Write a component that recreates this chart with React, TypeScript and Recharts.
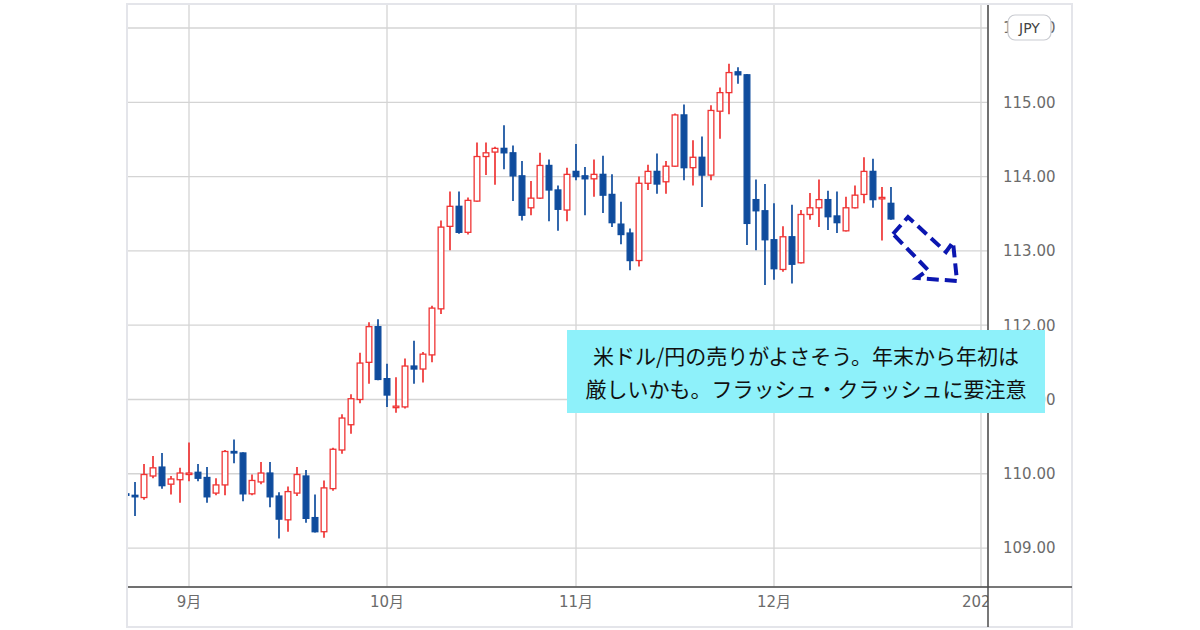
import { ComposedChart, Bar, XAxis, YAxis, CartesianGrid } from 'recharts'

const UP = '#ef3434'
const DOWN = '#0f4c9d'
const GRID = '#d4d4d4'
const AXIS = '#4b4b4b'
const LABEL = '#6b6b6b'

const W = 1200
const H = 630
const MARGIN = { top: 4, right: 128, bottom: 3, left: 127 }
const Y_W = 84
const X_H = 40
const PLOT_RIGHT = W - MARGIN.right - Y_W

// trading days shown on the axis (Aug 23, 2021 .. Jan 3, 2022)
const augDays = [23, 24, 25, 26, 27, 30, 31]
const sepDays = [1, 2, 3, 6, 7, 8, 9, 10, 13, 14, 15, 16, 17, 20, 21, 22, 23, 24, 27, 28, 29, 30]
const octDays = [1, 4, 5, 6, 7, 8, 11, 12, 13, 14, 15, 18, 19, 20, 21, 22, 25, 26, 27, 28, 29]
const novDays = [1, 2, 3, 4, 5, 8, 9, 10, 11, 12, 15, 16, 17, 18, 19, 22, 23, 24, 25, 26, 29, 30]
const decDays = [1, 2, 3, 6, 7, 8, 9, 10, 13, 14, 15, 16, 17, 20, 21, 22, 23, 24, 27, 28, 29, 30, 31]
const janDays = [3]

const pad = (d: number) => String(d).padStart(2, '0')
const calendar = [
  ...augDays.map((d) => `2021-08-${pad(d)}`),
  ...sepDays.map((d) => `2021-09-${pad(d)}`),
  ...octDays.map((d) => `2021-10-${pad(d)}`),
  ...novDays.map((d) => `2021-11-${pad(d)}`),
  ...decDays.map((d) => `2021-12-${pad(d)}`),
  ...janDays.map((d) => `2022-01-${pad(d)}`),
]

// USD/JPY daily OHLC, one row per month
const opens = [
  109.73, 109.71, 109.68, 109.97, 110.09, 109.86, 109.92,
  109.99, 110.02, 109.95, 109.74, 109.85, 110.3, 110.28, 109.73, 109.89, 110.01, 109.7, 109.38, 109.74, 109.97, 109.41, 109.22, 109.8, 110.32, 110.66, 111.0, 111.5, 111.98,
  111.28, 110.89, 110.9, 111.45, 111.41, 111.6, 112.22, 113.33, 113.6, 113.25, 113.67, 114.27, 114.33, 114.38, 114.32, 114.01, 113.58, 113.71, 114.15, 113.82, 113.55,
  114.07, 114.01, 113.97, 114.03, 113.76, 113.36, 113.24, 112.87, 113.91, 114.07, 113.93, 114.14, 114.83, 114.12, 114.26, 114.02, 114.88, 115.13, 115.41, 115.37, 113.69, 113.54,
  113.15, 112.75, 113.19, 112.84, 113.49, 113.58, 113.69, 113.47, 113.27, 113.58, 113.76, 114.07, 113.7, 113.64,
]
const highs = [
  109.76, 109.89, 110.13, 110.24, 110.28, 109.97, 110.08,
  110.42, 110.13, 110.09, 109.94, 110.32, 110.46, 110.29, 109.99, 110.16, 110.16, 109.75, 109.83, 110.09, 110.05, 109.72, 109.91, 110.35, 110.8, 111.07, 111.63, 112.04, 112.08,
  111.48, 111.3, 111.55, 111.79, 111.64, 112.26, 113.41, 113.8, 113.8, 113.72, 114.46, 114.46, 114.4, 114.69, 114.42, 114.21, 113.94, 114.32, 114.23, 113.88, 114.12,
  114.44, 114.13, 114.23, 114.28, 114.03, 113.66, 113.3, 114.0, 114.16, 114.31, 114.21, 114.85, 114.97, 114.49, 114.54, 114.96, 115.2, 115.52, 115.47, 115.38, 113.96, 113.9,
  113.64, 113.33, 113.62, 113.55, 113.78, 113.96, 113.81, 113.8, 113.73, 113.88, 114.26, 114.24, 113.86, 113.86,
]
const lows = [
  109.68, 109.43, 109.65, 109.94, 109.8, 109.72, 109.61,
  109.9, 109.9, 109.61, 109.71, 109.71, 110.14, 109.63, 109.71, 109.86, 109.55, 109.13, 109.22, 109.7, 109.34, 109.21, 109.14, 109.77, 110.27, 110.54, 110.95, 111.21, 111.26,
  110.9, 110.82, 110.88, 111.21, 111.23, 111.5, 112.15, 113.01, 113.23, 113.22, 113.66, 114.02, 113.89, 114.1, 113.67, 113.41, 113.48, 113.7, 113.4, 113.27, 113.4,
  113.95, 113.48, 113.73, 113.51, 113.32, 113.09, 112.74, 112.79, 113.82, 113.77, 113.77, 114.13, 113.95, 113.88, 113.59, 113.95, 114.51, 114.84, 115.25, 113.08, 113.01, 112.54,
  112.61, 112.72, 112.56, 112.83, 113.42, 113.32, 113.28, 113.24, 113.26, 113.57, 113.64, 113.58, 113.14, 113.42,
]
const closes = [
  109.71, 109.69, 109.99, 110.08, 109.84, 109.93, 110.01,
  110.01, 109.94, 109.69, 109.85, 110.3, 110.28, 109.73, 109.91, 110.01, 109.69, 109.39, 109.76, 109.99, 109.4, 109.22, 109.81, 110.33, 110.75, 111.01, 111.49, 111.98, 111.27,
  111.06, 110.91, 111.45, 111.41, 111.61, 112.23, 113.32, 113.6, 113.25, 113.68, 114.27, 114.32, 114.38, 114.32, 114.01, 113.48, 113.71, 114.15, 113.82, 113.56, 114.03,
  114.0, 113.97, 114.03, 113.75, 113.38, 113.22, 112.87, 113.91, 114.07, 113.9, 114.14, 114.83, 114.12, 114.26, 114.02, 114.89, 115.13, 115.4, 115.37, 113.37, 113.54, 113.15,
  112.76, 113.19, 112.82, 113.49, 113.58, 113.69, 113.46, 113.38, 113.58, 113.75, 114.07, 113.69, 113.72, 113.43,
]

const priceTicks = [109, 110, 111, 112, 113, 114, 115, 116]
const priceDomain = [108.476, 116.323]
const monthTickDates = ['2021-09-01', '2021-10-01', '2021-11-01', '2021-12-01', '2022-01-03']
const monthTickLabels = ['9月', '10月', '11月', '12月', '2022']
const dayDomain = [0.11, 95.78]

const note = ['米ドル/円の売りがよさそう。年末から年初は', '厳しいかも。フラッシュ・クラッシュに要注意']

const data = opens.map((open, i) => ({
  i,
  date: calendar[i],
  open,
  high: highs[i],
  low: lows[i],
  close: closes[i],
}))

const monthTicks = monthTickDates.map((d) => calendar.indexOf(d))

const Candle = (props: any) => {
  const { x, y, width, height, payload } = props
  if (height == null || !payload) return null
  const { open, close, high, low } = payload
  const up = close >= open
  const color = up ? UP : DOWN
  const k = height / (high - low)
  const py = (p: number) => y + (high - p) * k
  const cx = x + width / 2
  const top = py(Math.max(open, close))
  const bot = py(Math.min(open, close))
  return (
    <g>
      <line x1={cx} x2={cx} y1={y} y2={y + height} stroke={color} strokeWidth={1.7} />
      <rect
        x={x + 0.65}
        y={top}
        width={width - 1.3}
        height={Math.max(bot - top, 1.4)}
        fill={up ? '#fff' : color}
        stroke={color}
        strokeWidth={1.3}
      />
    </g>
  )
}

const MonthTick = (props: any) => {
  const { x, y, payload } = props
  const label = monthTickLabels[monthTicks.indexOf(payload.value)] ?? ''
  return (
    <g>
      <defs>
        <clipPath id="monthTickClip">
          <rect x={0} y={0} width={PLOT_RIGHT} height={H} />
        </clipPath>
      </defs>
      <text
        x={x}
        y={y}
        dy="0.71em"
        textAnchor="middle"
        fill={LABEL}
        fontSize={15}
        fontFamily="'DejaVu Sans', 'Noto Sans CJK JP', sans-serif"
        clipPath="url(#monthTickClip)"
      >
        {label}
      </text>
    </g>
  )
}

export default function App() {
  return (
    <div style={{ position: 'absolute', left: 0, top: 0, width: W, height: H, background: '#fff' }}>
      <ComposedChart width={W} height={H} data={data} margin={MARGIN}>
        <CartesianGrid stroke={GRID} strokeWidth={1.3} />
        <XAxis
          dataKey="i"
          type="number"
          domain={dayDomain}
          allowDataOverflow
          ticks={monthTicks}
          interval={0}
          height={X_H}
          tickLine={false}
          tickMargin={3}
          axisLine={{ stroke: AXIS, strokeWidth: 1.5 }}
          tick={<MonthTick />}
        />
        <YAxis
          orientation="right"
          type="number"
          domain={priceDomain}
          allowDataOverflow
          ticks={priceTicks}
          interval={0}
          width={Y_W}
          tickLine={false}
          tickMargin={9}
          axisLine={{ stroke: AXIS, strokeWidth: 1.5 }}
          tickFormatter={(v: number) => v.toFixed(2)}
          tick={{ fill: LABEL, fontSize: 15, fontFamily: "'DejaVu Sans', sans-serif", textAnchor: 'start' }}
        />
        <Bar
          dataKey={(d: any) => [d.low, d.high]}
          barSize={7}
          shape={<Candle />}
          isAnimationActive={false}
        />
      </ComposedChart>

      <svg
        width={W}
        height={H}
        style={{ position: 'absolute', left: 0, top: 0, pointerEvents: 'none' }}
      >
        <rect x={127} y={4} width={945} height={623} fill="none" stroke="#e4e5ea" strokeWidth={2} />
        <line x1={PLOT_RIGHT} x2={1072} y1={587} y2={587} stroke={AXIS} strokeWidth={1.5} />
        <line x1={PLOT_RIGHT} x2={PLOT_RIGHT} y1={587} y2={627} stroke={AXIS} strokeWidth={1.5} />
        <rect x={1008} y={15} width={43} height={25} rx={7} fill="#fff" stroke="#c9cbd1" strokeWidth={1.2} />
        <text
          x={1029.5}
          y={33}
          textAnchor="middle"
          fontSize={14}
          fill="#444"
          fontFamily="'DejaVu Sans', sans-serif"
        >
          JPY
        </text>
        <polygon
          points="893,234 908,217 946,252 953,242 957,281 917,278 928,270"
          fill="none"
          stroke="#0b16b0"
          strokeWidth={4}
          strokeDasharray="12 6"
          strokeLinejoin="miter"
        />
      </svg>

      <div
        style={{
          position: 'absolute',
          left: 567,
          top: 330,
          width: 478,
          height: 83,
          background: '#8ef1fa',
          display: 'flex',
          flexDirection: 'column',
          alignItems: 'center',
          justifyContent: 'center',
          fontFamily: "'Noto Sans CJK JP', sans-serif",
          fontSize: 21,
          lineHeight: '33px',
          color: '#111',
        }}
      >
        {note.map((line) => (
          <div key={line}>{line}</div>
        ))}
      </div>
    </div>
  )
}
